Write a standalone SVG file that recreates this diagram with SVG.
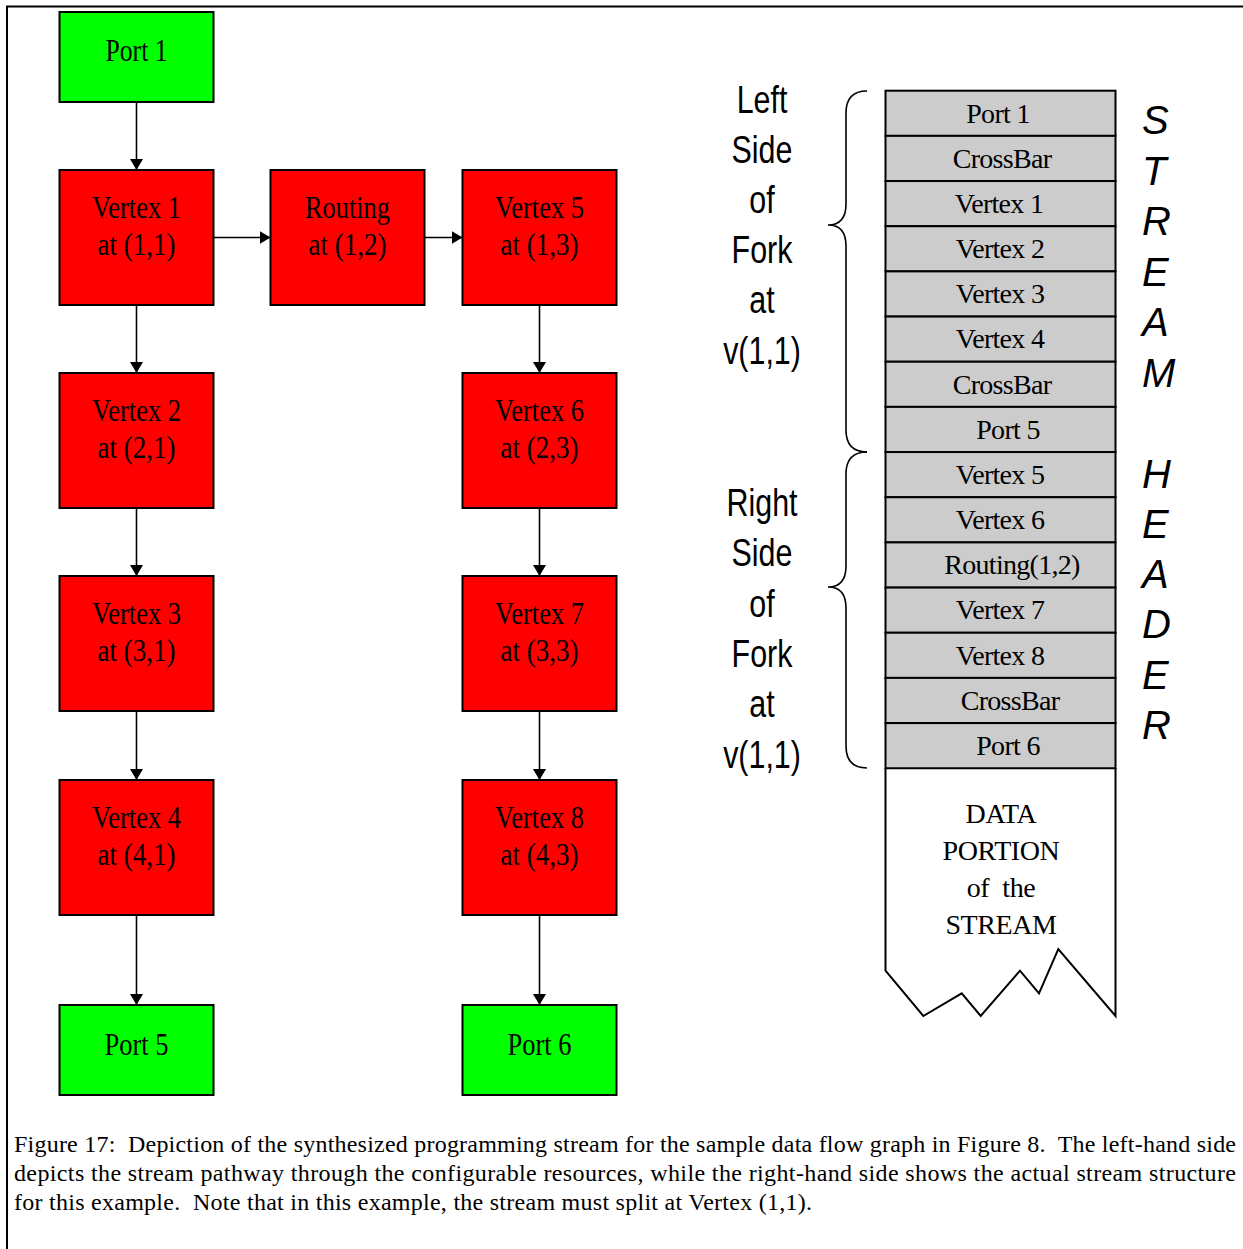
<svg xmlns="http://www.w3.org/2000/svg" width="1243" height="1249" viewBox="0 0 1243 1249">
  <style>
    .frame { fill: none; stroke: #000; stroke-width: 2; }
    .port { fill: #00ff00; stroke: #000; stroke-width: 2; }
    .vtx { fill: #ff0000; stroke: #000; stroke-width: 2; }
    .lbl { font-family: "Liberation Serif", "Times New Roman", serif; font-size: 32px; text-anchor: middle; fill: #000; }
    .edge { fill: none; stroke: #000; stroke-width: 1.6; }
    .cell { fill: #cccccc; stroke: #000; stroke-width: 2; }
    .cellt { font-family: "Liberation Serif", "Times New Roman", serif; font-size: 28px; letter-spacing: -0.7px; text-anchor: middle; fill: #000; }
    .data { fill: #fff; stroke: #000; stroke-width: 2; stroke-linejoin: miter; }
    .datat { font-family: "Liberation Serif", "Times New Roman", serif; font-size: 28px; letter-spacing: -0.4px; text-anchor: middle; fill: #000; white-space: pre; }
    .brace { fill: none; stroke: #000; stroke-width: 1.6; }
    .side { font-family: "Liberation Sans", Arial, sans-serif; font-size: 39px; text-anchor: middle; fill: #000; }
    .hdr { font-family: "Liberation Sans", Arial, sans-serif; font-size: 40px; font-style: italic; fill: #000; }
    .cap { font-family: "Liberation Serif", "Times New Roman", serif; font-size: 24px; fill: #000; white-space: pre; }
  </style>
  <defs>
    <marker id="arrow" markerUnits="userSpaceOnUse" markerWidth="13" markerHeight="14" refX="11" refY="6.5" orient="auto">
      <path d="M0,0 L11,6.5 L0,13 Z" fill="#000"/>
    </marker>
  </defs>

  <rect width="1243" height="1249" fill="#fff"/>
  <!-- figure frame (top and left edges) -->
  <path class="frame" d="M7,1249 L7,6.5 L1243,6.5"/>

  <!-- connectors -->
  <g id="connectors">
    <line class="edge" x1="136.5" y1="102" x2="136.5" y2="170" marker-end="url(#arrow)"/>
    <line class="edge" x1="213.5" y1="237.5" x2="270.5" y2="237.5" marker-end="url(#arrow)"/>
    <line class="edge" x1="424.5" y1="237.5" x2="462.5" y2="237.5" marker-end="url(#arrow)"/>
    <line class="edge" x1="136.5" y1="305" x2="136.5" y2="373" marker-end="url(#arrow)"/>
    <line class="edge" x1="136.5" y1="508" x2="136.5" y2="576" marker-end="url(#arrow)"/>
    <line class="edge" x1="136.5" y1="711" x2="136.5" y2="780" marker-end="url(#arrow)"/>
    <line class="edge" x1="136.5" y1="915" x2="136.5" y2="1005" marker-end="url(#arrow)"/>
    <line class="edge" x1="539.5" y1="305" x2="539.5" y2="373" marker-end="url(#arrow)"/>
    <line class="edge" x1="539.5" y1="508" x2="539.5" y2="576" marker-end="url(#arrow)"/>
    <line class="edge" x1="539.5" y1="711" x2="539.5" y2="780" marker-end="url(#arrow)"/>
    <line class="edge" x1="539.5" y1="915" x2="539.5" y2="1005" marker-end="url(#arrow)"/>
  </g>

  <!-- pathway nodes -->
  <g id="port1">
    <rect class="port" x="59.5" y="12" width="154" height="90"/>
    <text class="lbl" x="136.5" y="61" textLength="62" lengthAdjust="spacingAndGlyphs">Port 1</text>
  </g>
  <g id="vertex1">
    <rect class="vtx" x="59.5" y="170" width="154" height="135"/>
    <text class="lbl" x="136.5" y="218" textLength="89" lengthAdjust="spacingAndGlyphs">Vertex 1</text>
    <text class="lbl" x="136.5" y="255" textLength="78" lengthAdjust="spacingAndGlyphs">at (1,1)</text>
  </g>
  <g id="routing12">
    <rect class="vtx" x="270.5" y="170" width="154" height="135"/>
    <text class="lbl" x="347.5" y="218" textLength="85" lengthAdjust="spacingAndGlyphs">Routing</text>
    <text class="lbl" x="347.5" y="255" textLength="78" lengthAdjust="spacingAndGlyphs">at (1,2)</text>
  </g>
  <g id="vertex5">
    <rect class="vtx" x="462.5" y="170" width="154" height="135"/>
    <text class="lbl" x="539.5" y="218" textLength="89" lengthAdjust="spacingAndGlyphs">Vertex 5</text>
    <text class="lbl" x="539.5" y="255" textLength="78" lengthAdjust="spacingAndGlyphs">at (1,3)</text>
  </g>
  <g id="vertex2">
    <rect class="vtx" x="59.5" y="373" width="154" height="135"/>
    <text class="lbl" x="136.5" y="421" textLength="89" lengthAdjust="spacingAndGlyphs">Vertex 2</text>
    <text class="lbl" x="136.5" y="458" textLength="78" lengthAdjust="spacingAndGlyphs">at (2,1)</text>
  </g>
  <g id="vertex6">
    <rect class="vtx" x="462.5" y="373" width="154" height="135"/>
    <text class="lbl" x="539.5" y="421" textLength="89" lengthAdjust="spacingAndGlyphs">Vertex 6</text>
    <text class="lbl" x="539.5" y="458" textLength="78" lengthAdjust="spacingAndGlyphs">at (2,3)</text>
  </g>
  <g id="vertex3">
    <rect class="vtx" x="59.5" y="576" width="154" height="135"/>
    <text class="lbl" x="136.5" y="624" textLength="89" lengthAdjust="spacingAndGlyphs">Vertex 3</text>
    <text class="lbl" x="136.5" y="661" textLength="78" lengthAdjust="spacingAndGlyphs">at (3,1)</text>
  </g>
  <g id="vertex7">
    <rect class="vtx" x="462.5" y="576" width="154" height="135"/>
    <text class="lbl" x="539.5" y="624" textLength="89" lengthAdjust="spacingAndGlyphs">Vertex 7</text>
    <text class="lbl" x="539.5" y="661" textLength="78" lengthAdjust="spacingAndGlyphs">at (3,3)</text>
  </g>
  <g id="vertex4">
    <rect class="vtx" x="59.5" y="780" width="154" height="135"/>
    <text class="lbl" x="136.5" y="828" textLength="89" lengthAdjust="spacingAndGlyphs">Vertex 4</text>
    <text class="lbl" x="136.5" y="865" textLength="78" lengthAdjust="spacingAndGlyphs">at (4,1)</text>
  </g>
  <g id="vertex8">
    <rect class="vtx" x="462.5" y="780" width="154" height="135"/>
    <text class="lbl" x="539.5" y="828" textLength="89" lengthAdjust="spacingAndGlyphs">Vertex 8</text>
    <text class="lbl" x="539.5" y="865" textLength="78" lengthAdjust="spacingAndGlyphs">at (4,3)</text>
  </g>
  <g id="port5">
    <rect class="port" x="59.5" y="1005" width="154" height="90"/>
    <text class="lbl" x="136.5" y="1055" textLength="64" lengthAdjust="spacingAndGlyphs">Port 5</text>
  </g>
  <g id="port6">
    <rect class="port" x="462.5" y="1005" width="154" height="90"/>
    <text class="lbl" x="539.5" y="1055" textLength="64" lengthAdjust="spacingAndGlyphs">Port 6</text>
  </g>

  <!-- stream structure: data portion with torn bottom edge -->
  <g id="data-portion">
    <path class="data" d="M885.5,768 L885.5,970.7 L923.3,1016 L961.7,993.3 L980.7,1016 L1020,970.7 L1039,993.3 L1058.3,949 L1115.5,1016 L1115.5,768"/>
    <text class="datat" x="1001" y="823">DATA</text>
    <text class="datat" x="1001" y="860">PORTION</text>
    <text class="datat" x="1001" y="897">of  the</text>
    <text class="datat" x="1001" y="934">STREAM</text>
  </g>

  <!-- stream header cells -->
  <g id="header-cells">
    <rect class="cell" x="885.5" y="90.7" width="230" height="45.17"/>
    <rect class="cell" x="885.5" y="135.87" width="230" height="45.17"/>
    <rect class="cell" x="885.5" y="181.04" width="230" height="45.17"/>
    <rect class="cell" x="885.5" y="226.21" width="230" height="45.17"/>
    <rect class="cell" x="885.5" y="271.38" width="230" height="45.17"/>
    <rect class="cell" x="885.5" y="316.55" width="230" height="45.17"/>
    <rect class="cell" x="885.5" y="361.72" width="230" height="45.17"/>
    <rect class="cell" x="885.5" y="406.89" width="230" height="45.17"/>
    <rect class="cell" x="885.5" y="452.06" width="230" height="45.17"/>
    <rect class="cell" x="885.5" y="497.23" width="230" height="45.17"/>
    <rect class="cell" x="885.5" y="542.4" width="230" height="45.17"/>
    <rect class="cell" x="885.5" y="587.57" width="230" height="45.17"/>
    <rect class="cell" x="885.5" y="632.74" width="230" height="45.17"/>
    <rect class="cell" x="885.5" y="677.91" width="230" height="45.17"/>
    <rect class="cell" x="885.5" y="723.08" width="230" height="45.17"/>
    <text class="cellt" x="998" y="122.5">Port 1</text>
    <text class="cellt" x="1002" y="167.7">CrossBar</text>
    <text class="cellt" x="999" y="212.9">Vertex 1</text>
    <text class="cellt" x="1000" y="258">Vertex 2</text>
    <text class="cellt" x="1000" y="303.2">Vertex 3</text>
    <text class="cellt" x="1000" y="348.4">Vertex 4</text>
    <text class="cellt" x="1002" y="393.5">CrossBar</text>
    <text class="cellt" x="1008" y="438.7">Port 5</text>
    <text class="cellt" x="1000" y="483.9">Vertex 5</text>
    <text class="cellt" x="1000" y="529">Vertex 6</text>
    <text class="cellt" x="1012" y="574.2">Routing(1,2)</text>
    <text class="cellt" x="1000" y="619.4">Vertex 7</text>
    <text class="cellt" x="1000" y="664.5">Vertex 8</text>
    <text class="cellt" x="1010" y="709.7">CrossBar</text>
    <text class="cellt" x="1008" y="754.9">Port 6</text>
  </g>

  <!-- braces grouping the two halves of the fork -->
  <g id="left-brace">
    <path class="brace" d="M867,91 Q846,91 846,113 L846,204 Q846,225 828,225 Q846,225 846,246 L846,430 Q846,452 867,452"/>
    <g transform="translate(762,0) scale(0.78,1)">
      <text class="side" x="0" y="113">Left</text>
      <text class="side" x="0" y="163">Side</text>
      <text class="side" x="0" y="213">of</text>
      <text class="side" x="0" y="263">Fork</text>
      <text class="side" x="0" y="313">at</text>
      <text class="side" x="0" y="364">v(1,1)</text>
    </g>
  </g>
  <g id="right-brace">
    <path class="brace" d="M867,452 Q846,452 846,474 L846,566 Q846,587 828,587 Q846,587 846,608 L846,746 Q846,768 867,768"/>
    <g transform="translate(762,0) scale(0.78,1)">
      <text class="side" x="0" y="516">Right</text>
      <text class="side" x="0" y="566">Side</text>
      <text class="side" x="0" y="617">of</text>
      <text class="side" x="0" y="667">Fork</text>
      <text class="side" x="0" y="717">at</text>
      <text class="side" x="0" y="768">v(1,1)</text>
    </g>
  </g>

  <!-- vertical STREAM HEADER label -->
  <g id="stream-header-label">
    <text class="hdr" x="1142" y="134">S</text>
    <text class="hdr" x="1142" y="184.5">T</text>
    <text class="hdr" x="1142" y="235">R</text>
    <text class="hdr" x="1142" y="285.5">E</text>
    <text class="hdr" x="1142" y="336">A</text>
    <text class="hdr" x="1142" y="386.5">M</text>
    <text class="hdr" x="1142" y="487.5">H</text>
    <text class="hdr" x="1142" y="537.5">E</text>
    <text class="hdr" x="1142" y="588">A</text>
    <text class="hdr" x="1142" y="638">D</text>
    <text class="hdr" x="1142" y="688.5">E</text>
    <text class="hdr" x="1142" y="738.5">R</text>
  </g>

  <!-- caption -->
  <g id="caption">
    <text class="cap" x="14" y="1152" textLength="1222" lengthAdjust="spacing">Figure 17:  Depiction of the synthesized programming stream for the sample data flow graph in Figure 8.  The left-hand side</text>
    <text class="cap" x="14" y="1181" textLength="1222" lengthAdjust="spacing">depicts the stream pathway through the configurable resources, while the right-hand side shows the actual stream structure</text>
    <text class="cap" x="14" y="1210" textLength="798" lengthAdjust="spacing">for this example.  Note that in this example, the stream must split at Vertex (1,1).</text>
  </g>
</svg>
